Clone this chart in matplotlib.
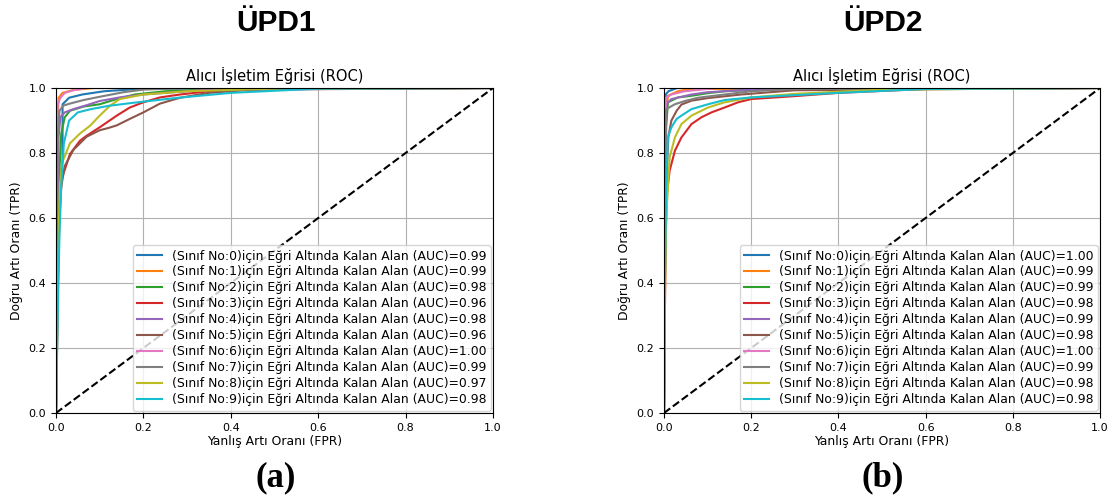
import matplotlib
matplotlib.use("Agg")
import matplotlib.pyplot as plt

# ---------------- data ----------------
class_ids = list(range(10))
auc_upd1 = [0.99, 0.99, 0.98, 0.96, 0.98, 0.96, 1.00, 0.99, 0.97, 0.98]
auc_upd2 = [1.00, 0.99, 0.99, 0.98, 0.99, 0.98, 1.00, 0.99, 0.98, 0.98]

# ÜPD1 ROC curves (fpr, tpr) per class
upd1_fpr_0 = [0, 0.003, 0.008, 0.015, 0.015, 0.03, 0.06, 0.11, 0.2, 1]
upd1_tpr_0 = [0, 0.5, 0.7, 0.78, 0.95, 0.97, 0.98, 0.99, 0.998, 1]
upd1_fpr_1 = [0, 0.002, 0.004, 0.006, 0.015, 0.04, 0.085, 1]
upd1_tpr_1 = [0, 0.5, 0.9, 0.97, 0.985, 0.994, 1.0, 1.0]
upd1_fpr_2 = [0, 0.004, 0.008, 0.012, 0.02, 0.032, 0.063, 0.1, 0.139, 0.18, 0.25, 0.4, 1]
upd1_tpr_2 = [0, 0.5, 0.75, 0.86, 0.91, 0.93, 0.943, 0.95, 0.966, 0.98, 0.99, 0.998, 1]
upd1_fpr_3 = [0, 0.003, 0.005, 0.008, 0.013, 0.032, 0.055, 0.07, 0.1, 0.139, 0.169, 0.2, 0.238, 0.284, 0.35, 0.5, 1]
upd1_tpr_3 = [0, 0.25, 0.45, 0.6, 0.72, 0.797, 0.838, 0.853, 0.879, 0.915, 0.94, 0.956, 0.971, 0.98, 0.99, 0.998, 1]
upd1_fpr_4 = [0, 0.003, 0.006, 0.01, 0.02, 0.04, 0.07, 0.1, 0.15, 0.2, 0.35, 1]
upd1_tpr_4 = [0, 0.6, 0.85, 0.91, 0.925, 0.935, 0.947, 0.96, 0.972, 0.98, 0.995, 1]
upd1_fpr_5 = [0, 0.003, 0.006, 0.01, 0.02, 0.04, 0.07, 0.1, 0.12, 0.139, 0.169, 0.2, 0.238, 0.284, 0.35, 0.45, 1]
upd1_tpr_5 = [0, 0.3, 0.55, 0.68, 0.76, 0.81, 0.85, 0.87, 0.877, 0.885, 0.905, 0.925, 0.952, 0.97, 0.985, 0.995, 1]
upd1_fpr_6 = [0, 0.002, 0.004, 0.01, 0.02, 0.04, 0.07, 1]
upd1_tpr_6 = [0, 0.6, 0.95, 0.97, 0.985, 0.993, 1.0, 1]
upd1_fpr_7 = [0, 0.002, 0.004, 0.008, 0.017, 0.032, 0.063, 0.1, 0.154, 0.2, 0.3, 1]
upd1_tpr_7 = [0, 0.5, 0.85, 0.93, 0.946, 0.952, 0.963, 0.973, 0.987, 0.995, 1.0, 1]
upd1_fpr_8 = [0, 0.004, 0.007, 0.009, 0.014, 0.032, 0.055, 0.078, 0.1, 0.124, 0.146, 0.2, 0.3, 0.5, 1]
upd1_tpr_8 = [0, 0.35, 0.6, 0.7, 0.77, 0.83, 0.86, 0.884, 0.915, 0.946, 0.966, 0.98, 0.99, 0.998, 1]
upd1_fpr_9 = [0, 0.004, 0.008, 0.012, 0.018, 0.03, 0.05, 0.08, 0.12, 0.18, 0.28, 0.4, 0.6, 1]
upd1_tpr_9 = [0, 0.3, 0.55, 0.7, 0.83, 0.9, 0.925, 0.935, 0.945, 0.955, 0.97, 0.985, 0.998, 1]

# ÜPD2 ROC curves (fpr, tpr) per class
upd2_fpr_0 = [0, 0.002, 0.004, 0.01, 0.03, 1]
upd2_tpr_0 = [0, 0.7, 0.98, 0.99, 1.0, 1]
upd2_fpr_1 = [0, 0.002, 0.004, 0.009, 0.032, 0.06, 1]
upd2_tpr_1 = [0, 0.6, 0.9, 0.976, 0.99, 0.997, 1]
upd2_fpr_2 = [0, 0.002, 0.005, 0.009, 0.032, 0.063, 0.1, 0.139, 0.25, 1]
upd2_tpr_2 = [0, 0.6, 0.88, 0.956, 0.971, 0.976, 0.984, 0.99, 0.997, 1]
upd2_fpr_3 = [0, 0.002, 0.004, 0.007, 0.013, 0.025, 0.04, 0.063, 0.086, 0.109, 0.139, 0.17, 0.2, 0.3, 0.4, 0.6, 1]
upd2_tpr_3 = [0, 0.3, 0.55, 0.68, 0.746, 0.807, 0.848, 0.889, 0.91, 0.925, 0.94, 0.956, 0.966, 0.975, 0.985, 0.997, 1]
upd2_fpr_4 = [0, 0.002, 0.005, 0.017, 0.04, 0.063, 0.1, 0.2, 1]
upd2_tpr_4 = [0, 0.6, 0.95, 0.966, 0.973, 0.98, 0.987, 0.995, 1]
upd2_fpr_5 = [0, 0.002, 0.005, 0.01, 0.017, 0.029, 0.04, 0.063, 0.101, 0.177, 0.3, 1]
upd2_tpr_5 = [0, 0.4, 0.7, 0.85, 0.9, 0.93, 0.949, 0.961, 0.969, 0.98, 0.993, 1]
upd2_fpr_6 = [0, 0.002, 0.004, 0.017, 0.047, 0.085, 0.12, 1]
upd2_tpr_6 = [0, 0.7, 0.97, 0.98, 0.99, 0.995, 1.0, 1]
upd2_fpr_7 = [0, 0.002, 0.005, 0.025, 0.048, 0.078, 0.139, 0.2, 0.3, 1]
upd2_tpr_7 = [0, 0.6, 0.935, 0.95, 0.96, 0.97, 0.98, 0.99, 0.997, 1]
upd2_fpr_8 = [0, 0.002, 0.005, 0.013, 0.025, 0.04, 0.063, 0.101, 0.139, 0.2, 0.3, 0.5, 1]
upd2_tpr_8 = [0, 0.35, 0.6, 0.787, 0.848, 0.889, 0.915, 0.94, 0.956, 0.971, 0.982, 0.995, 1]
upd2_fpr_9 = [0, 0.002, 0.005, 0.009, 0.017, 0.029, 0.04, 0.063, 0.101, 0.139, 0.2, 0.4, 0.6, 1]
upd2_tpr_9 = [0, 0.4, 0.7, 0.848, 0.879, 0.905, 0.915, 0.935, 0.95, 0.963, 0.971, 0.985, 0.997, 1]

upd1_fpr = [upd1_fpr_0, upd1_fpr_1, upd1_fpr_2, upd1_fpr_3, upd1_fpr_4,
            upd1_fpr_5, upd1_fpr_6, upd1_fpr_7, upd1_fpr_8, upd1_fpr_9]
upd1_tpr = [upd1_tpr_0, upd1_tpr_1, upd1_tpr_2, upd1_tpr_3, upd1_tpr_4,
            upd1_tpr_5, upd1_tpr_6, upd1_tpr_7, upd1_tpr_8, upd1_tpr_9]
upd2_fpr = [upd2_fpr_0, upd2_fpr_1, upd2_fpr_2, upd2_fpr_3, upd2_fpr_4,
            upd2_fpr_5, upd2_fpr_6, upd2_fpr_7, upd2_fpr_8, upd2_fpr_9]
upd2_tpr = [upd2_tpr_0, upd2_tpr_1, upd2_tpr_2, upd2_tpr_3, upd2_tpr_4,
            upd2_tpr_5, upd2_tpr_6, upd2_tpr_7, upd2_tpr_8, upd2_tpr_9]

panel_titles = ["ÜPD1", "ÜPD2"]
panel_tags = ["(a)", "(b)"]
axes_title = "Alıcı İşletim Eğrisi (ROC)"
xlabel = "Yanlış Artı Oranı (FPR)"
ylabel = "Doğru Artı Oranı (TPR)"
tick_vals = [0.0, 0.2, 0.4, 0.6, 0.8, 1.0]

# ---------------- figure ----------------
W, H = 1113, 501
fig = plt.figure(figsize=(W / 100, H / 100), dpi=100)

ax_rects = [
    [56 / W, (H - 413) / H, 437 / W, 325 / H],
    [664 / W, (H - 413) / H, 436 / W, 325 / H],
]
title_x = [276 / W, 883 / W]

datasets = [(upd1_fpr, upd1_tpr, auc_upd1), (upd2_fpr, upd2_tpr, auc_upd2)]

for p, (fprs, tprs, aucs) in enumerate(datasets):
    ax = fig.add_axes(ax_rects[p])
    for i in class_ids:
        ax.plot(fprs[i], tprs[i], color=f"C{i}", lw=1.5,
                label=f"(Sınıf No:{i})için Eğri Altında Kalan Alan (AUC)={aucs[i]:.2f}")
    ax.plot([0, 1], [0, 1], "k--", lw=1.5)
    ax.set_xlim(0, 1)
    ax.set_ylim(0, 1)
    ax.set_xticks(tick_vals)
    ax.set_yticks(tick_vals)
    ax.tick_params(labelsize=8)
    ax.grid(True, color="#b0b0b0", lw=0.8)
    ax.set_title(axes_title, fontsize=10.5, pad=5)
    ax.set_xlabel(xlabel, fontsize=8.9, labelpad=2)
    ax.set_ylabel(ylabel, fontsize=8.9, labelpad=4)
    ax.legend(loc="lower right", fontsize=8.9, borderaxespad=0.2,
              labelspacing=0.24, handlelength=2.0, borderpad=0.35)
    fig.text(title_x[p], 1 - 23 / H, panel_titles[p], ha="center", va="center",
             fontsize=21.5, fontweight="bold", family="Liberation Sans")
    fig.text(title_x[p], 1 - 478 / H, panel_tags[p], ha="center", va="center",
             fontsize=25, fontweight="bold", family="Liberation Serif")

fig.savefig("out.png", dpi=100)
